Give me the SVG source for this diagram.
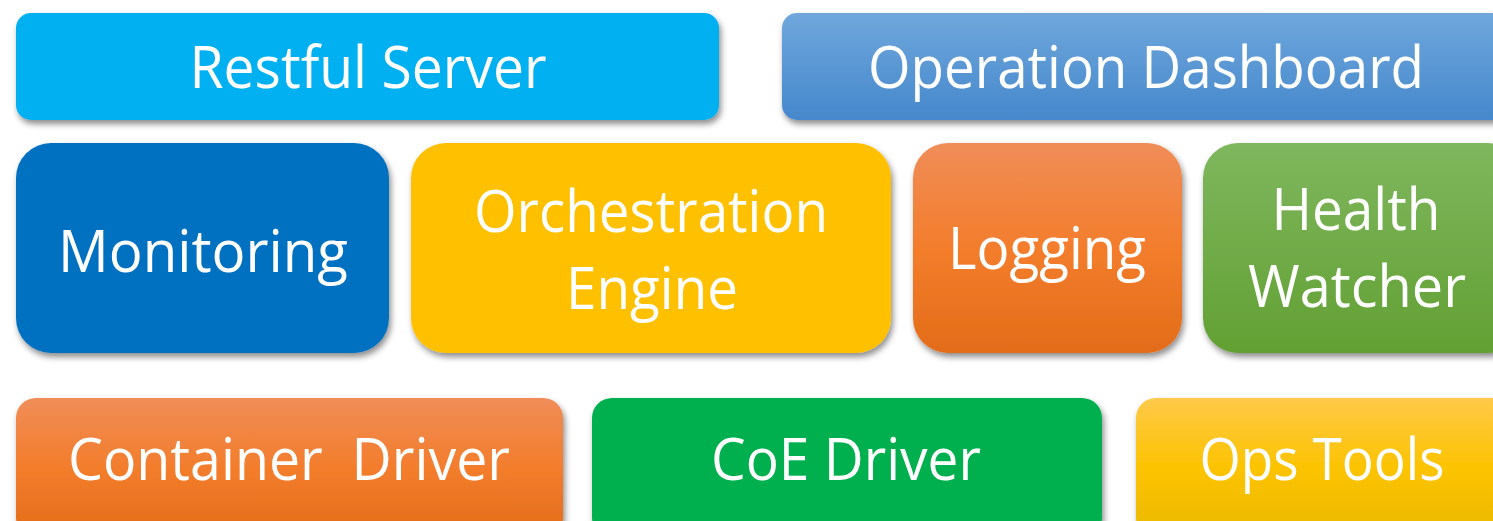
<svg xmlns="http://www.w3.org/2000/svg" width="1493" height="521" viewBox="0 0 1493 521">
<style>
  .t { font-family: "Open Sans", "Noto Sans", sans-serif; font-size: 58px; fill: #ffffff; text-anchor: middle; }
  .box { filter: url(#sh); }
</style>
<defs>
  <filter id="sh" x="-10%" y="-20%" width="120%" height="140%">
    <feDropShadow dx="2" dy="4" stdDeviation="3" flood-color="#000" flood-opacity="0.45"/>
  </filter>
  <linearGradient id="gBlue" x1="0" y1="0" x2="0" y2="1">
    <stop offset="0" stop-color="#6FA7DC"/>
    <stop offset="1" stop-color="#4588CC"/>
  </linearGradient>
  <linearGradient id="gOrange" x1="0" y1="0" x2="0" y2="1">
    <stop offset="0" stop-color="#F08D58"/>
    <stop offset="0.5" stop-color="#F37D2C"/>
    <stop offset="1" stop-color="#E36C19"/>
  </linearGradient>
  <linearGradient id="gGreen" x1="0" y1="0" x2="0" y2="1">
    <stop offset="0" stop-color="#7FB75E"/>
    <stop offset="1" stop-color="#62A033"/>
  </linearGradient>
  <linearGradient id="gGold" x1="0" y1="0" x2="0" y2="1">
    <stop offset="0" stop-color="#FFC94A"/>
    <stop offset="0.5" stop-color="#FCC300"/>
    <stop offset="1" stop-color="#EBB900"/>
  </linearGradient>
</defs>
<rect width="1493" height="521" fill="#ffffff"/>

<g id="restful-server">
  <rect class="box" x="16" y="13" width="703" height="107" rx="15" fill="#00B0F0"/>
  <text class="t" x="368" y="88" textLength="357" lengthAdjust="spacingAndGlyphs">Restful Server</text>
</g>
<g id="operation-dashboard">
  <rect class="box" x="782" y="13" width="730" height="107" rx="15" fill="url(#gBlue)"/>
  <text class="t" x="1146" y="88" textLength="556" lengthAdjust="spacingAndGlyphs">Operation Dashboard</text>
</g>

<g id="monitoring">
  <rect class="box" x="16" y="143" width="373" height="210" rx="35" fill="#0070C0"/>
  <text class="t" x="203" y="272" textLength="290" lengthAdjust="spacingAndGlyphs">Monitoring</text>
</g>
<g id="orchestration-engine">
  <rect class="box" x="411" y="143" width="480" height="210" rx="35" fill="#FFC000"/>
  <text class="t" x="651" y="232" textLength="354" lengthAdjust="spacingAndGlyphs">Orchestration</text>
  <text class="t" x="652" y="309" textLength="172" lengthAdjust="spacingAndGlyphs">Engine</text>
</g>
<g id="logging">
  <rect class="box" x="913" y="143" width="269" height="210" rx="35" fill="url(#gOrange)"/>
  <text class="t" x="1047" y="269" textLength="198" lengthAdjust="spacingAndGlyphs">Logging</text>
</g>
<g id="health-watcher">
  <rect class="box" x="1203" y="143" width="320" height="210" rx="35" fill="url(#gGreen)"/>
  <text class="t" x="1356" y="230" textLength="169" lengthAdjust="spacingAndGlyphs">Health</text>
  <text class="t" x="1357" y="307" textLength="218" lengthAdjust="spacingAndGlyphs">Watcher</text>
</g>

<g id="container-driver">
  <rect class="box" x="16" y="398" width="547" height="140" rx="20" fill="url(#gOrange)"/>
  <text class="t" x="289" y="480" textLength="442" lengthAdjust="spacingAndGlyphs" xml:space="preserve">Container  Driver</text>
</g>
<g id="coe-driver">
  <rect class="box" x="592" y="398" width="510" height="140" rx="20" fill="#00B050"/>
  <text class="t" x="846" y="480" textLength="270" lengthAdjust="spacingAndGlyphs">CoE Driver</text>
</g>
<g id="ops-tools">
  <rect class="box" x="1136" y="398" width="380" height="140" rx="20" fill="url(#gGold)"/>
  <text class="t" x="1322" y="480" textLength="245" lengthAdjust="spacingAndGlyphs">Ops Tools</text>
</g>
<g id="connectors"/>
</svg>
